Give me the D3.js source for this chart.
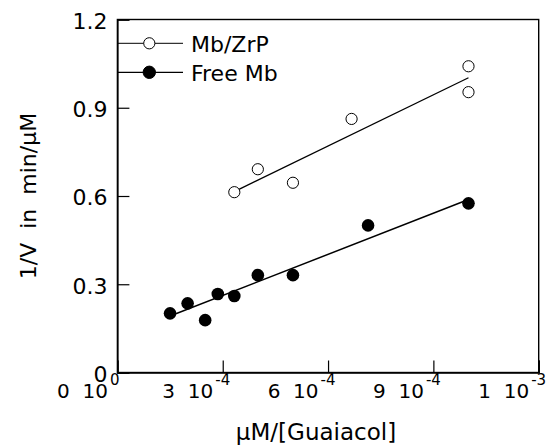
<!DOCTYPE html>
<html>
<head>
<meta charset="utf-8">
<script src="https://cdn.jsdelivr.net/npm/d3@7"></script>
<style>
  body { margin: 0; background: #fff; }
  svg text { font-family: "DejaVu Sans", sans-serif; fill: #000; }
</style>
</head>
<body>
<div id="chart"></div>
<script>
// Data (x in µM/[Guaiacol], y = 1/V in min/µM)
const zrpX = [3.33e-4, 4.0e-4, 5.0e-4, 6.67e-4, 1.0e-3, 1.0e-3];
const zrpY = [0.613, 0.691, 0.645, 0.862, 1.041, 0.953];
const freeX = [1.5e-4, 2.0e-4, 2.5e-4, 2.86e-4, 3.33e-4, 4.0e-4, 5.0e-4, 7.14e-4, 1.0e-3];
const freeY = [0.201, 0.235, 0.178, 0.267, 0.260, 0.331, 0.331, 0.500, 0.575];

// fitted line end points, as drawn in the figure
const zrpFitX = [3.33e-4, 1.0e-3];
const zrpFitY = [0.615, 1.002];
const freeFitX = [1.5e-4, 1.0e-3];
const freeFitY = [0.192, 0.588];

const xTicks = [0, 3e-4, 6e-4, 9e-4, 1.2e-3];
const xTickMant = ["0", "3", "6", "9", "1"];
const xTickExp = ["0", "-4", "-4", "-4", "-3"];
const yTicks = [0, 0.3, 0.6, 0.9, 1.2];
const yTickLabels = ["0", "0.3", "0.6", "0.9", "1.2"];

const seriesNames = ["Mb/ZrP", "Free Mb"];

const width = 551, height = 445;
const margin = { top: 19.5, right: 12.3, bottom: 72.5, left: 117.4 };

const svg = d3.select("#chart").append("svg")
  .attr("width", width)
  .attr("height", height);

const x = d3.scaleLinear()
  .domain([0, 1.2e-3])
  .range([margin.left, width - margin.right]);

const y = d3.scaleLinear()
  .domain([0, 1.2])
  .range([height - margin.bottom, margin.top]);

// frame
svg.append("rect")
  .attr("x", x(0))
  .attr("y", y(1.2))
  .attr("width", x(1.2e-3) - x(0))
  .attr("height", y(0) - y(1.2))
  .attr("fill", "none")
  .attr("stroke", "#000")
  .attr("stroke-width", 1.4);

// x axis: inward ticks, labels drawn by hand
const xAxis = svg.append("g")
  .attr("transform", `translate(0,${y(0)})`)
  .call(d3.axisBottom(x).tickValues(xTicks).tickSize(-12).tickFormat(""));
xAxis.select(".domain").attr("stroke-width", 1.4);
xAxis.selectAll(".tick line").attr("stroke-width", 1.2);

const xLab = svg.append("g");
xTicks.forEach((v, i) => {
  xLab.append("text")
    .attr("x", x(v) - 9.5)
    .attr("y", 398)
    .attr("text-anchor", "end")
    .style("font-size", "20px")
    .style("white-space", "pre")
    .text(xTickMant[i] + "  10");
  xLab.append("text")
    .attr("x", x(v) - 7.5)
    .attr("y", 385)
    .style("font-size", "15px")
    .text(xTickExp[i]);
});

// y axis
const yAxis = svg.append("g")
  .attr("transform", `translate(${x(0)},0)`)
  .call(d3.axisLeft(y).tickValues(yTicks).tickSize(-12).tickPadding(10)
    .tickFormat((d, i) => yTickLabels[i]));
yAxis.select(".domain").attr("stroke-width", 1.4);
yAxis.selectAll(".tick line").attr("stroke-width", 1.2);
yAxis.selectAll(".tick text")
  .style("font-size", "22px")
  .style("font-family", "DejaVu Sans, sans-serif")
  .attr("dy", "0.4em");

// axis titles
svg.append("text")
  .attr("x", 316)
  .attr("y", 440)
  .attr("text-anchor", "middle")
  .style("font-size", "23px")
  .text("µM/[Guaiacol]");

svg.append("text")
  .attr("transform", "translate(36,196) rotate(-90)")
  .attr("text-anchor", "middle")
  .style("font-size", "22px")
  .style("white-space", "pre")
  .text("1/V  in  min/µM");

// fit lines
const line = d3.line().x(d => x(d[0])).y(d => y(d[1]));
svg.append("path")
  .datum(d3.zip(zrpFitX, zrpFitY))
  .attr("d", line)
  .attr("fill", "none")
  .attr("stroke", "#000")
  .attr("stroke-width", 1.3);
svg.append("path")
  .datum(d3.zip(freeFitX, freeFitY))
  .attr("d", line)
  .attr("fill", "none")
  .attr("stroke", "#000")
  .attr("stroke-width", 1.5);

// points
svg.append("g").selectAll("circle")
  .data(d3.zip(zrpX, zrpY))
  .join("circle")
    .attr("cx", d => x(d[0]))
    .attr("cy", d => y(d[1]))
    .attr("r", 5.6)
    .attr("fill", "#fff")
    .attr("stroke", "#000")
    .attr("stroke-width", 1);

svg.append("g").selectAll("circle")
  .data(d3.zip(freeX, freeY))
  .join("circle")
    .attr("cx", d => x(d[0]))
    .attr("cy", d => y(d[1]))
    .attr("r", 6.3)
    .attr("fill", "#000");

// legend
const legY = [43.3, 72.3];
const legend = svg.append("g");
seriesNames.forEach((name, i) => {
  legend.append("line")
    .attr("x1", x(0)).attr("x2", 183)
    .attr("y1", legY[i]).attr("y2", legY[i])
    .attr("stroke", "#000")
    .attr("stroke-width", i === 0 ? 1 : 1.3);
  legend.append("circle")
    .attr("cx", 149.3)
    .attr("cy", legY[i])
    .attr("r", i === 0 ? 5.6 : 6.2)
    .attr("fill", i === 0 ? "#fff" : "#000")
    .attr("stroke", "#000")
    .attr("stroke-width", 1);
  legend.append("text")
    .attr("x", 191)
    .attr("y", legY[i] + 8.5)
    .style("font-size", "22px")
    .text(name);
});
</script>
</body>
</html>
